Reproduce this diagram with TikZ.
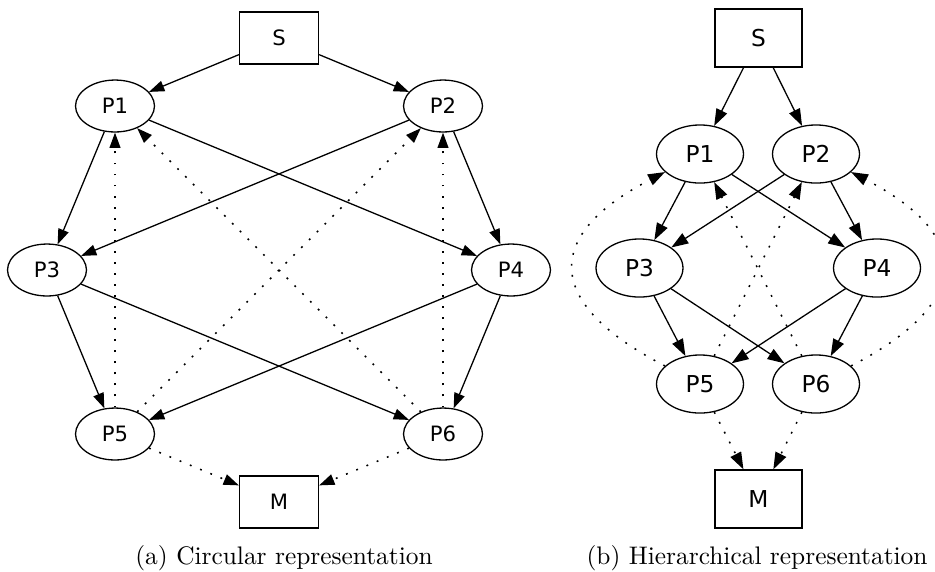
\documentclass[tikz,border=0pt]{standalone}
\usepackage{fontspec}
\newfontfamily\procfont{DejaVu Sans}
\usetikzlibrary{arrows.meta,shapes.geometric}

\tikzset{
    proc/.style={ellipse, draw, line width=0.55pt, inner sep=0pt,
        minimum width=33.6pt, minimum height=22.1pt,
        font=\procfont\fontsize{9}{11}\selectfont},
    term/.style={proc, rectangle},
    bigproc/.style={proc, minimum width=37pt, minimum height=24.7pt,
        font=\procfont\fontsize{9.9}{12}\selectfont},
    bigterm/.style={bigproc, rectangle},
    flow/.style={-{Triangle[length=6.5pt,width=4.6pt]}, line width=0.55pt},
    bigflow/.style={-{Triangle[length=7.2pt,width=5pt]}, line width=0.55pt},
    ret/.style={dash pattern=on 0.8pt off 3.9pt, line width=0.65pt},
    caption/.style={anchor=base, font=\fontsize{10.8}{13}\selectfont},
}

\begin{document}
\begin{tikzpicture}[x=0.4255pt, y=-0.4255pt]
    \useasboundingbox (0,0) rectangle (935,571);

    % (a) circular
    \node[term] at (279, 38)(aS){S};
    \node[proc] at (115, 106)(a1){P1};
    \node[proc] at (443, 106)(a2){P2};
    \node[proc] at (47, 270)(a3){P3};
    \node[proc] at (511, 270)(a4){P4};
    \node[proc] at (115, 434)(a5){P5};
    \node[proc] at (443, 434)(a6){P6};
    \node[term] at (279, 502)(aM){M};

    \path[flow]
        (aS)edge(a1)
        (aS)edge(a2)
        (a1)edge(a3)
        (a1)edge(a4)
        (a2)edge(a3)
        (a2)edge(a4)
        (a3)edge(a5)
        (a3)edge(a6)
        (a4)edge(a5)
        (a4)edge(a6)
        ;
    \path[flow, ret]
        (a5)edge(a1)
        (a5)edge(a2)
        (a6)edge(a1)
        (a6)edge(a2)
        (a5)edge(aM)
        (a6)edge(aM)
        ;
    \node[caption] at (284, 564)(capa){(a) Circular representation};

    % (b) hierarchical
    \node[bigterm] at (758.5, 38)(bS){S};
    \node[bigproc] at (700, 154)(b1){P1};
    \node[bigproc] at (816, 154)(b2){P2};
    \node[bigproc] at (639.5, 268)(b3){P3};
    \node[bigproc] at (877, 268)(b4){P4};
    \node[bigproc] at (700, 384)(b5){P5};
    \node[bigproc] at (816, 384)(b6){P6};
    \node[bigterm] at (758.5, 499)(bM){M};

    \path[bigflow]
        (bS)edge(b1)
        (bS)edge(b2)
        (b1)edge(b3)
        (b1)edge(b4)
        (b2)edge(b3)
        (b2)edge(b4)
        (b3)edge(b5)
        (b3)edge(b6)
        (b4)edge(b5)
        (b4)edge(b6)
        ;
    \path[bigflow, ret]
        (b5)edge(b2)
        (b6)edge(b1)
        (b5)edge(bM)
        (b6)edge(bM)
        ;
    \draw[bigflow, ret] (b5) .. controls +(-157,-81) and +(-157,81) .. (b1);
    \draw[bigflow, ret] (b6) .. controls +(157,-81) and +(157,81) .. (b2);
    \node[caption] at (757, 564)(capb){(b) Hierarchical representation};
\end{tikzpicture}
\end{document}
